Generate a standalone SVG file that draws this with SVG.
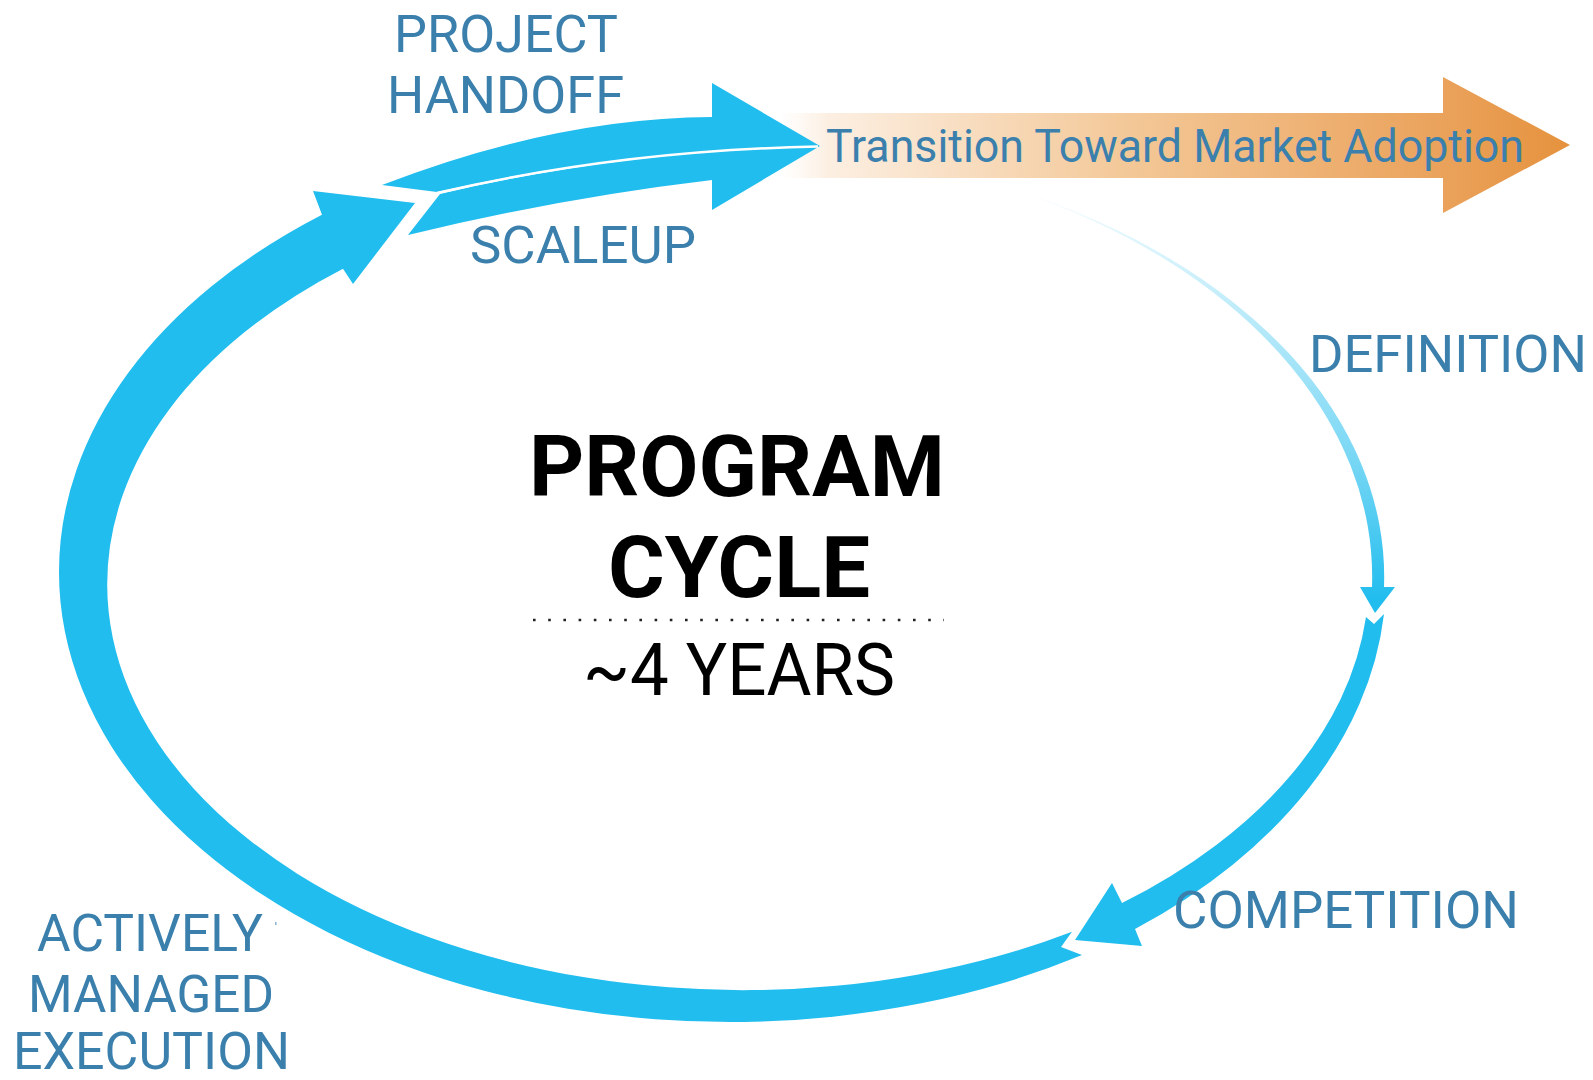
<svg xmlns="http://www.w3.org/2000/svg" width="1593" height="1080" viewBox="0 0 1593 1080">
<defs>
<linearGradient id="orangeGrad" gradientUnits="userSpaceOnUse" x1="780" y1="0" x2="1570" y2="0">
<stop offset="0" stop-color="#fdf3e8" stop-opacity="0"/>
<stop offset="0.06" stop-color="#fcefe2"/>
<stop offset="0.45" stop-color="#f3c796"/>
<stop offset="0.84" stop-color="#eaa25b"/>
<stop offset="1" stop-color="#e5923d"/>
</linearGradient>
<linearGradient id="defGrad" gradientUnits="userSpaceOnUse" x1="0" y1="190" x2="0" y2="600">
<stop offset="0" stop-color="#21bdee" stop-opacity="0.04"/>
<stop offset="0.3" stop-color="#21bdee" stop-opacity="0.3"/>
<stop offset="0.65" stop-color="#21bdee" stop-opacity="0.6"/>
<stop offset="1" stop-color="#21bdee" stop-opacity="1"/>
</linearGradient>
<style>
.blue{fill:#21bdee;}
.lbl{font-family:Roboto,"Liberation Sans",sans-serif;font-size:51px;fill:#3b80ad;}
.ttl{font-family:Roboto,"Liberation Sans",sans-serif;font-weight:bold;font-size:86px;fill:#000;}
.sub{font-family:Roboto,"Liberation Sans",sans-serif;font-size:73px;fill:#000;}
.trans{font-family:Roboto,"Liberation Sans",sans-serif;font-size:46px;fill:#3b80ad;}
</style>
</defs>
<rect width="1593" height="1080" fill="#fff"/>

<g id="connectors">
<path id="transition-arrow" d="M782 113 L1443 113 L1443 77 L1570 145 L1443 213 L1443 178 L782 178 Z" fill="url(#orangeGrad)"/>
<path id="definition-arc" d="M1015 190 A654.1 429.5 0 0 1 1384 587 L1395 587 L1375 613 L1360 587 L1372 587 A642 431.5 0 0 0 1015 190 Z" fill="url(#defGrad)"/>
<path id="competition-arc" class="blue" d="M1384 614 A656 446 0 0 1 1135 929 L1142 946 L1075 940 L1112 883 L1122 903 A639 411.6 0 0 0 1366 617 L1374 624 Z"/>
<path id="execution-arc" class="blue" d="M1082 955.1 A671 450 0 0 1 59 572 A671 450 0 0 1 322 214.7 L313 191 L415 203 L353 284 L343 268.7 A636 406 0 0 0 107.2 584.2 A636 406 0 0 0 1072 931.7 L1061 947 Z"/>
<path id="handoff-arrow" class="blue" d="M382 185 Q555 118 712 117 L712 83 L820 146 Q620 150 437 192 Z"/>
<path id="scaleup-arrow" class="blue" d="M440 194 Q620 151 820 146 L712 210 L712 180 Q560 198 408 235 Z"/>
<path d="M437 193 Q620 150.5 818 146.5" fill="none" stroke="#fff" stroke-width="2.5"/>
</g>

<g id="label-handoff">
<text class="lbl" x="394" y="52" textLength="224" lengthAdjust="spacingAndGlyphs">PROJECT</text>
<text class="lbl" x="387" y="113" textLength="237" lengthAdjust="spacingAndGlyphs">HANDOFF</text>
</g>
<g id="label-scaleup">
<text class="lbl" x="470" y="263" textLength="226" lengthAdjust="spacingAndGlyphs">SCALEUP</text>
</g>
<g id="label-definition">
<text class="lbl" x="1309" y="372" textLength="278" lengthAdjust="spacingAndGlyphs">DEFINITION</text>
</g>
<g id="label-competition">
<text class="lbl" x="1173" y="928" textLength="346" lengthAdjust="spacingAndGlyphs">COMPETITION</text>
</g>
<g id="label-execution">
<text class="lbl" x="37" y="951" textLength="226" lengthAdjust="spacingAndGlyphs">ACTIVELY</text>
<text class="lbl" x="28" y="1012" textLength="246" lengthAdjust="spacingAndGlyphs">MANAGED</text>
<text class="lbl" x="13" y="1069" textLength="277" lengthAdjust="spacingAndGlyphs">EXECUTION</text>
<rect x="275" y="922" width="1.5" height="3" fill="#3b80ad" opacity="0.6"/>
</g>
<g id="label-transition">
<text class="trans" x="826" y="162" textLength="698" lengthAdjust="spacingAndGlyphs">Transition Toward Market Adoption</text>
</g>
<g id="center">
<text class="ttl" x="529" y="496" textLength="416" lengthAdjust="spacingAndGlyphs">PROGRAM</text>
<text class="ttl" x="608" y="597" textLength="262" lengthAdjust="spacingAndGlyphs">CYCLE</text>
<line x1="533" y1="620" x2="944" y2="620" stroke="#222" stroke-width="2.6" stroke-dasharray="2.6 12.6"/>
<text class="sub" x="583" y="695" textLength="312" lengthAdjust="spacingAndGlyphs">~4 YEARS</text>
</g>
</svg>
